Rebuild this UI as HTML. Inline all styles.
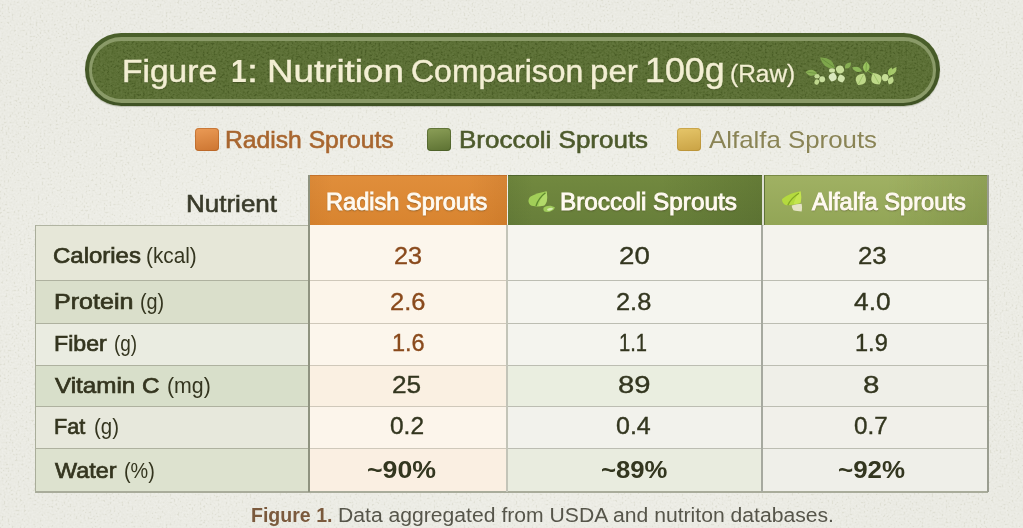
<!DOCTYPE html>
<html><head><meta charset="utf-8">
<style>
*{margin:0;padding:0;box-sizing:border-box}
html,body{width:1023px;height:528px;overflow:hidden}
body{position:relative;background:#ebebe3;font-family:"Liberation Sans",Arial,sans-serif}
.t{position:absolute;white-space:pre;line-height:1;transform-origin:0 0}
.abs{position:absolute}
#bgv{position:absolute;left:0;top:0;width:1023px;height:528px;background:radial-gradient(ellipse 60% 55% at 50% 55%, #efefe8 0%, #ebebe3 60%, #e8e8e0 100%)}
#banner{left:84.8px;top:33.2px;width:855.5px;height:72.4px;border-radius:36.2px;background:linear-gradient(180deg,#4a5f2a,#3f5224);box-shadow:0 1px 1px rgba(60,70,40,.25)}
#banner .ring{position:absolute;left:4px;top:4px;right:4px;bottom:2.8px;border-radius:32.5px;background:#8a9a68}
#banner .fill{position:absolute;left:7.6px;top:7.9px;right:7.6px;bottom:7px;border-radius:29px;background:#566a30;overflow:hidden}
.sq{position:absolute;width:24px;height:23px;border-radius:3px}
#sq1{left:195px;top:127.5px;border-radius:4px;background:linear-gradient(170deg,#eb9b56,#cc7531);box-shadow:inset 0 0 0 1px rgba(170,90,30,.5)}
#sq2{left:427px;top:127.5px;border-radius:4px;background:linear-gradient(170deg,#8c9f58,#5c7132);box-shadow:inset 0 0 0 1px rgba(60,80,30,.5)}
#sq3{left:677px;top:127.5px;border-radius:4px;background:linear-gradient(170deg,#e6c66a,#c9a244);box-shadow:inset 0 0 0 1px rgba(170,130,40,.45)}
.hd{position:absolute;top:175px;height:50.5px}
#hd1{left:309px;width:198px;background:linear-gradient(90deg,rgba(120,50,0,.06) 0%,rgba(0,0,0,0) 12%,rgba(0,0,0,0) 80%,rgba(120,50,0,.10) 100%),linear-gradient(180deg,#e08e3b,#d8842f);box-shadow:inset 0 1px 0 rgba(170,90,30,.5)}
#hd2{left:507.5px;width:254px;background:linear-gradient(90deg,rgba(30,50,10,.08) 0%,rgba(0,0,0,0) 10%,rgba(0,0,0,0) 60%,rgba(30,50,10,.16) 100%),linear-gradient(180deg,#72893f,#677e3a);box-shadow:inset 0 1px 0 rgba(50,70,30,.5)}
#hd3{left:763.6px;width:224.9px;border-left:1px solid #5e7236;background:linear-gradient(90deg,rgba(0,0,0,0) 0%,rgba(0,0,0,0) 55%,rgba(40,60,10,.14) 100%),linear-gradient(180deg,#a0b163,#92a556);box-shadow:inset 0 1px 0 rgba(80,100,40,.5)}
.c{position:absolute}
.hl{position:absolute;height:1.5px;background:#a9ab9a}
.vl{position:absolute;width:1.5px;background:#8e9282}
</style></head><body>
<div id="bgv"></div>
<svg class="abs" style="left:0;top:0;opacity:.45;mix-blend-mode:soft-light" width="1023" height="528"><filter id="nz2"><feTurbulence type="fractalNoise" baseFrequency="0.5" numOctaves="2" seed="7"/><feColorMatrix type="saturate" values="0"/><feComponentTransfer><feFuncR type="linear" slope="3" intercept="-1"/><feFuncG type="linear" slope="3" intercept="-1"/><feFuncB type="linear" slope="3" intercept="-1"/><feFuncA type="linear" slope="0" intercept="1"/></feComponentTransfer></filter><rect width="1023" height="528" filter="url(#nz2)"/></svg>
<div id="banner" class="abs"><div class="ring"></div><div class="fill"><svg width="100%" height="100%" style="position:absolute;left:0;top:0;opacity:.2;mix-blend-mode:soft-light"><filter id="nz"><feTurbulence type="fractalNoise" baseFrequency="0.45" numOctaves="2" seed="3"/><feColorMatrix type="saturate" values="0"/><feComponentTransfer><feFuncR type="linear" slope="3" intercept="-1"/><feFuncG type="linear" slope="3" intercept="-1"/><feFuncB type="linear" slope="3" intercept="-1"/><feFuncA type="linear" slope="0" intercept="1"/></feComponentTransfer></filter><rect width="100%" height="100%" filter="url(#nz)"/></svg></div></div>
<div class="sq" id="sq1"></div><div class="sq" id="sq2"></div><div class="sq" id="sq3"></div>
<div class="hd" id="hd1"></div><div class="hd" id="hd2"></div><div class="hd" id="hd3"></div>
<!-- body cells -->
<div class="c" style="left:35px;top:225px;width:274px;height:55px;background:#e6e7d8"></div>
<div class="c" style="left:309px;top:225px;width:198px;height:55px;background:#fcf6ec"></div>
<div class="c" style="left:507px;top:225px;width:255px;height:55px;background:#f6f5ef"></div>
<div class="c" style="left:762px;top:225px;width:226px;height:55px;background:#f4f3ed"></div>
<div class="c" style="left:35px;top:280px;width:274px;height:43px;background:#dadfcb"></div>
<div class="c" style="left:309px;top:280px;width:198px;height:43px;background:#fcf5ea"></div>
<div class="c" style="left:507px;top:280px;width:255px;height:43px;background:#f5f5ef"></div>
<div class="c" style="left:762px;top:280px;width:226px;height:43px;background:#f4f4ee"></div>
<div class="c" style="left:35px;top:323px;width:274px;height:42px;background:#eaece1"></div>
<div class="c" style="left:309px;top:323px;width:198px;height:42px;background:#fcf6ec"></div>
<div class="c" style="left:507px;top:323px;width:255px;height:42px;background:#f4f4ee"></div>
<div class="c" style="left:762px;top:323px;width:226px;height:42px;background:#f2f2ec"></div>
<div class="c" style="left:35px;top:365px;width:274px;height:41px;background:#d8dfca"></div>
<div class="c" style="left:309px;top:365px;width:198px;height:41px;background:#faf0e2"></div>
<div class="c" style="left:507px;top:365px;width:255px;height:41px;background:#eaeee0"></div>
<div class="c" style="left:762px;top:365px;width:226px;height:41px;background:#efefe8"></div>
<div class="c" style="left:35px;top:406px;width:274px;height:42px;background:#e7e8dc"></div>
<div class="c" style="left:309px;top:406px;width:198px;height:42px;background:#fcf5eb"></div>
<div class="c" style="left:507px;top:406px;width:255px;height:42px;background:#f2f2ec"></div>
<div class="c" style="left:762px;top:406px;width:226px;height:42px;background:#f1f0ea"></div>
<div class="c" style="left:35px;top:448px;width:274px;height:44px;background:#dde2cf"></div>
<div class="c" style="left:309px;top:448px;width:198px;height:44px;background:#faefe2"></div>
<div class="c" style="left:507px;top:448px;width:255px;height:44px;background:#e9ecdf"></div>
<div class="c" style="left:762px;top:448px;width:226px;height:44px;background:#efefe9"></div>
<!-- lines -->
<div class="hl" style="left:35px;top:224.5px;width:274px;height:1.2px;background:#b1b4a2"></div>
<div class="hl" style="left:35px;top:280px;width:274px;height:1.2px;background:#aeb19f"></div>
<div class="hl" style="left:309px;top:280px;width:198px;height:1.2px;background:#cfc8ba"></div>
<div class="hl" style="left:507px;top:280px;width:481px;height:1.2px;background:#bcbdb2"></div>
<div class="hl" style="left:35px;top:322.6px;width:274px;height:1.2px;background:#aeb19f"></div>
<div class="hl" style="left:309px;top:322.6px;width:198px;height:1.2px;background:#cfc8ba"></div>
<div class="hl" style="left:507px;top:322.6px;width:481px;height:1.2px;background:#bcbdb2"></div>
<div class="hl" style="left:35px;top:364.6px;width:274px;height:1.2px;background:#aeb19f"></div>
<div class="hl" style="left:309px;top:364.6px;width:198px;height:1.2px;background:#cfc8ba"></div>
<div class="hl" style="left:507px;top:364.6px;width:481px;height:1.2px;background:#bcbdb2"></div>
<div class="hl" style="left:35px;top:405.8px;width:274px;height:1.2px;background:#aeb19f"></div>
<div class="hl" style="left:309px;top:405.8px;width:198px;height:1.2px;background:#cfc8ba"></div>
<div class="hl" style="left:507px;top:405.8px;width:481px;height:1.2px;background:#bcbdb2"></div>
<div class="hl" style="left:35px;top:447.8px;width:274px;height:1.2px;background:#aeb19f"></div>
<div class="hl" style="left:309px;top:447.8px;width:198px;height:1.2px;background:#cfc8ba"></div>
<div class="hl" style="left:507px;top:447.8px;width:481px;height:1.2px;background:#bcbdb2"></div>
<div class="hl" style="left:35px;top:491px;width:953px;height:1.5px;background:#a9ac9b"></div>
<div class="vl" style="left:34.5px;top:224.5px;height:268px;width:1.5px;background:#a9ad9a"></div>
<div class="vl" style="left:308.4px;top:175px;height:317px;width:1.7px;background:#8f9380"></div>
<div class="vl" style="left:506.4px;top:225px;height:267px;width:1.2px;background:#c3c4b8"></div>
<div class="vl" style="left:761.5px;top:175px;height:50.5px;width:2.1px;background:#dedfd3"></div>
<div class="vl" style="left:761.2px;top:225px;height:267px;width:1.7px;background:#a6a99f"></div>
<div class="vl" style="left:987px;top:175px;height:317px;width:1.6px;background:#9a9d90"></div>
<svg class="abs" style="left:0;top:0" width="1023" height="528" viewBox="0 0 1023 528"><path d="M817.0,73.5 Q812.6,66.8 805.5,72.0 Q811.0,78.9 817.0,73.5Z" fill="#8cb257"/><path d="M815.9,73.3 L807.2,72.2" stroke="#6f9540" stroke-width="0.8" fill="none" stroke-linecap="round"/><ellipse cx="817" cy="76.2" rx="2.6" ry="2.2" fill="#c4db96" transform="rotate(0 817 76.2)"/><ellipse cx="822.2" cy="79.2" rx="2.9" ry="3.0" fill="#c9de9e" transform="rotate(0 822.2 79.2)"/><ellipse cx="816.8" cy="82" rx="2.3" ry="2.7" fill="#bfd78e" transform="rotate(20 816.8 82)"/><path d="M835.0,68.0 Q832.8,56.7 820.0,57.5 Q823.7,69.8 835.0,68.0Z" fill="#7ea64b"/><path d="M833.5,67.0 L822.2,59.1" stroke="#64893a" stroke-width="0.8" fill="none" stroke-linecap="round"/><ellipse cx="832" cy="70.4" rx="3.0" ry="2.2" fill="#cfe2a6" transform="rotate(0 832 70.4)"/><ellipse cx="840" cy="69.5" rx="4.0" ry="3.9" fill="#c7dd98" transform="rotate(-20 840 69.5)"/><path d="M831.5,81.5 Q840.5,79.6 834.0,72.5 Q824.8,75.3 831.5,81.5Z" fill="#dbe8bf"/><path d="M842.5,82.5 Q848.3,76.7 840.0,74.5 Q834.5,81.1 842.5,82.5Z" fill="#d2e3ad"/><path d="M845.0,68.5 Q851.2,69.3 851.0,62.5 Q844.2,62.3 845.0,68.5Z" fill="#86ad52"/><path d="M862.0,71.0 Q859.1,64.8 852.0,67.5 Q855.9,74.1 862.0,71.0Z" fill="#8cb758"/><path d="M866.0,72.5 Q873.1,67.9 866.5,61.5 Q859.4,67.2 866.0,72.5Z" fill="#99c25f"/><path d="M866.0,71.4 L866.4,63.1" stroke="#75a040" stroke-width="0.8" fill="none" stroke-linecap="round"/><path d="M868,71 Q871,73.5 874,74" stroke="#7aa646" stroke-width="1" fill="none"/><path d="M858.0,85.0 Q870.0,84.7 864.0,73.5 Q851.4,75.0 858.0,85.0Z" fill="#bfd989"/><path d="M858.6,83.8 L863.1,75.2" stroke="#96bb5f" stroke-width="0.8" fill="none" stroke-linecap="round"/><path d="M879.5,84.5 Q885.7,74.2 873.0,73.0 Q867.5,84.5 879.5,84.5Z" fill="#bfd989"/><path d="M878.9,83.3 L874.0,74.7" stroke="#96bb5f" stroke-width="0.8" fill="none" stroke-linecap="round"/><ellipse cx="885.2" cy="77.6" rx="3.3" ry="3.7" fill="#c6dd96" transform="rotate(0 885.2 77.6)"/><path d="M889.5,76.0 Q895.6,73.4 891.5,67.5 Q885.2,71.0 889.5,76.0Z" fill="#a2c766"/><path d="M891.0,75.0 Q897.1,73.9 896.5,67.0 Q889.9,68.9 891.0,75.0Z" fill="#a7ca6c"/><path d="M889.0,84.5 Q895.8,83.2 892.5,76.5 Q885.4,78.6 889.0,84.5Z" fill="#bed88c"/><path d="M546.4,191.3 C541,192.5 535,194 531,196.2 C528,198 527.6,202.5 530.3,205 C533.5,207 540,206.8 544.6,205.2 C547.6,201.8 547.6,196.2 546.4,191.3 Z" fill="#a2cf58"/>
<path d="M546.4,191.3 C543.5,194 540.5,198.5 538.5,206 C541,206.3 543,205.8 544.6,205.2 C547.6,201.8 547.6,196.2 546.4,191.3 Z" fill="#b2da6a"/>
<path d="M536,206 Q538.5,198 545.5,192.8" stroke="#5f8a30" stroke-width="1.4" fill="none"/>
<path d="M543.6,207.8 C546,205.3 551,204.8 555,207.4 C553.5,211 548.5,212.8 544.5,211.6 C543.3,210.6 543.2,209 543.6,207.8 Z" fill="#9fcb5a"/>
<ellipse cx="550" cy="209.2" rx="3" ry="1.3" fill="#d6ecb0" transform="rotate(-12 550 209.2)"/>
<path d="M800.4,191.3 C796,192.3 792,193.2 788.5,195 C785.5,196.5 783.2,197.8 782,199.3 C781.8,202.3 783.6,204.6 786.4,205.3 C791,205.4 796,204.4 800.4,203.1 C801.6,199.5 801.4,195 800.4,191.3 Z" fill="#b4da3e"/>
<path d="M800.4,191.3 C797.5,194.5 795,198.5 793.5,204.6 C796,204.3 798.3,203.7 800.4,203.1 C801.6,199.5 801.4,195 800.4,191.3 Z" fill="#c4e54e"/>
<path d="M787.8,205.2 Q791,198 799,193.2" stroke="#84a826" stroke-width="1.3" fill="none"/>
<path d="M791.8,205.5 C795,204.6 798.5,204 801.6,203.8 C802.2,206.5 802.2,209 801.6,211.4 C798.5,211.2 796,210.8 793.4,210.2 C792.4,208.8 791.8,207.2 791.8,205.5Z" fill="#e5e3c6"/></svg>
<span class="t" id="t1" style="left:122.24px;top:56px;font-size:31px;font-weight:400;color:#f3efd3;transform:scaleX(1.0824);text-shadow:0 1px 1px rgba(40,50,20,.45);-webkit-text-stroke:0.45px currentColor;">Figure</span>
<span class="t" id="t2a" style="left:231.09px;top:56px;font-size:31px;font-weight:700;color:#f3efd3;transform:scaleX(0.9062);text-shadow:0 1px 1px rgba(40,50,20,.45);">1</span>
<span class="t" id="t2b" style="left:247.45px;top:56px;font-size:31px;font-weight:400;color:#f3efd3;transform:scaleX(1.2750);text-shadow:0 1px 1px rgba(40,50,20,.45);-webkit-text-stroke:0.45px currentColor;">:</span>
<span class="t" id="t3" style="left:266.63px;top:56px;font-size:31px;font-weight:400;color:#f3efd3;transform:scaleX(1.1855);text-shadow:0 1px 1px rgba(40,50,20,.45);-webkit-text-stroke:0.45px currentColor;">Nutrition</span>
<span class="t" id="t4" style="left:410.67px;top:56px;font-size:31px;font-weight:400;color:#f3efd3;transform:scaleX(1.0316);text-shadow:0 1px 1px rgba(40,50,20,.45);-webkit-text-stroke:0.45px currentColor;">Comparison</span>
<span class="t" id="t5" style="left:590.17px;top:56px;font-size:31px;font-weight:400;color:#f3efd3;transform:scaleX(1.0663);text-shadow:0 1px 1px rgba(40,50,20,.45);-webkit-text-stroke:0.45px currentColor;">per</span>
<span class="t" id="t6" style="left:645.43px;top:53px;font-size:34.5px;font-weight:400;color:#f3efd3;transform:scaleX(1.0364);text-shadow:0 1px 1px rgba(40,50,20,.45);-webkit-text-stroke:0.45px currentColor;">100g</span>
<span class="t" id="t7" style="left:729.94px;top:63px;font-size:23px;font-weight:400;color:#f3efd3;transform:scaleX(1.0625);text-shadow:0 1px 1px rgba(40,50,20,.45);-webkit-text-stroke:0.3px currentColor;">(Raw)</span>
<span class="t" id="l1" style="left:225.37px;top:128px;font-size:24px;font-weight:400;color:#a8662f;transform:scaleX(1.0277);-webkit-text-stroke:0.6px currentColor;">Radish Sprouts</span>
<span class="t" id="l2" style="left:458.92px;top:128px;font-size:24px;font-weight:400;color:#4d5a2c;transform:scaleX(1.0821);-webkit-text-stroke:0.6px currentColor;">Broccoli Sprouts</span>
<span class="t" id="l3" style="left:709.00px;top:128px;font-size:24px;font-weight:400;color:#8a8455;transform:scaleX(1.0764);">Alfalfa Sprouts</span>
<span class="t" id="h0" style="left:185.58px;top:192px;font-size:24.5px;font-weight:400;color:#3a3b2b;transform:scaleX(1.0610);-webkit-text-stroke:0.6px currentColor;">Nutrient</span>
<span class="t" id="h1" style="left:325.97px;top:191px;font-size:23px;font-weight:400;color:#fffaf0;transform:scaleX(1.0254);text-shadow:0 1px 1.5px rgba(40,30,10,.55);-webkit-text-stroke:0.9px currentColor;">Radish Sprouts</span>
<span class="t" id="h2" style="left:560.44px;top:191px;font-size:23px;font-weight:400;color:#fffaf0;transform:scaleX(1.0557);text-shadow:0 1px 1.5px rgba(40,30,10,.55);-webkit-text-stroke:0.9px currentColor;">Broccoli Sprouts</span>
<span class="t" id="h3" style="left:811.90px;top:191px;font-size:23px;font-weight:400;color:#fffaf0;transform:scaleX(1.0283);text-shadow:0 1px 1.5px rgba(40,30,10,.55);-webkit-text-stroke:0.9px currentColor;">Alfalfa Sprouts</span>
<span class="t" id="rn0" style="left:53.03px;top:245px;font-size:22.5px;font-weight:400;color:#34351f;transform:scaleX(1.0655);-webkit-text-stroke:0.7px currentColor;">Calories</span>
<span class="t" id="ru0" style="left:146.18px;top:245px;font-size:22.5px;font-weight:400;color:#34351f;transform:scaleX(0.9214);">(kcal)</span>
<span class="t" id="rn1" style="left:54.09px;top:291px;font-size:22.5px;font-weight:400;color:#34351f;transform:scaleX(1.1135);-webkit-text-stroke:0.7px currentColor;">Protein</span>
<span class="t" id="ru1" style="left:139.82px;top:291px;font-size:22.5px;font-weight:400;color:#34351f;transform:scaleX(0.8806);">(g)</span>
<span class="t" id="rn2" style="left:54.17px;top:333px;font-size:22.5px;font-weight:400;color:#34351f;transform:scaleX(1.0282);-webkit-text-stroke:0.7px currentColor;">Fiber</span>
<span class="t" id="ru2" style="left:114.46px;top:333px;font-size:22.5px;font-weight:400;color:#34351f;transform:scaleX(0.8421);">(g)</span>
<span class="t" id="rn3" style="left:55.30px;top:375px;font-size:22.5px;font-weight:400;color:#34351f;transform:scaleX(1.0757);-webkit-text-stroke:0.7px currentColor;">Vitamin C</span>
<span class="t" id="ru3" style="left:166.65px;top:375px;font-size:22.5px;font-weight:400;color:#34351f;transform:scaleX(0.9475);">(mg)</span>
<span class="t" id="rn4" style="left:54.34px;top:416px;font-size:22.5px;font-weight:400;color:#34351f;transform:scaleX(0.9610);-webkit-text-stroke:0.7px currentColor;">Fat</span>
<span class="t" id="ru4" style="left:93.79px;top:416px;font-size:22.5px;font-weight:400;color:#34351f;transform:scaleX(0.9075);">(g)</span>
<span class="t" id="rn5" style="left:54.80px;top:460px;font-size:22.5px;font-weight:400;color:#34351f;transform:scaleX(1.0389);-webkit-text-stroke:0.7px currentColor;">Water</span>
<span class="t" id="ru5" style="left:124.12px;top:460px;font-size:22.5px;font-weight:400;color:#34351f;transform:scaleX(0.8806);">(%)</span>
<span class="t" id="v00" style="left:394.30px;top:245px;font-size:23px;font-weight:400;color:#8a4a1c;transform:scaleX(1.0970);-webkit-text-stroke:0.35px currentColor;">23</span>
<span class="t" id="v01" style="left:619.40px;top:245px;font-size:23px;font-weight:400;color:#33361f;transform:scaleX(1.2021);-webkit-text-stroke:0.35px currentColor;">20</span>
<span class="t" id="v02" style="left:857.98px;top:245px;font-size:23px;font-weight:400;color:#33361f;transform:scaleX(1.1180);-webkit-text-stroke:0.35px currentColor;">23</span>
<span class="t" id="v10" style="left:389.89px;top:291px;font-size:23px;font-weight:400;color:#8a4a1c;transform:scaleX(1.1066);-webkit-text-stroke:0.35px currentColor;">2.6</span>
<span class="t" id="v11" style="left:615.60px;top:291px;font-size:23px;font-weight:400;color:#33361f;transform:scaleX(1.1033);-webkit-text-stroke:0.35px currentColor;">2.8</span>
<span class="t" id="v12" style="left:853.50px;top:291px;font-size:23px;font-weight:400;color:#33361f;transform:scaleX(1.1449);-webkit-text-stroke:0.35px currentColor;">4.0</span>
<span class="t" id="v20" style="left:391.88px;top:332px;font-size:23px;font-weight:400;color:#8a4a1c;transform:scaleX(1.0221);-webkit-text-stroke:0.35px currentColor;">1.6</span>
<span class="t" id="v21" style="left:618.73px;top:332px;font-size:23px;font-weight:400;color:#33361f;transform:scaleX(0.8747);-webkit-text-stroke:0.35px currentColor;">1.1</span>
<span class="t" id="v22" style="left:854.78px;top:332px;font-size:23px;font-weight:400;color:#33361f;transform:scaleX(1.0238);-webkit-text-stroke:0.35px currentColor;">1.9</span>
<span class="t" id="v30" style="left:391.76px;top:374px;font-size:23px;font-weight:400;color:#33361f;transform:scaleX(1.1391);-webkit-text-stroke:0.35px currentColor;">25</span>
<span class="t" id="v31" style="left:617.73px;top:374px;font-size:23px;font-weight:400;color:#33361f;transform:scaleX(1.2694);-webkit-text-stroke:0.35px currentColor;">89</span>
<span class="t" id="v32" style="left:862.92px;top:374px;font-size:23px;font-weight:400;color:#33361f;transform:scaleX(1.2818);-webkit-text-stroke:0.35px currentColor;">8</span>
<span class="t" id="v40" style="left:389.80px;top:415px;font-size:23px;font-weight:400;color:#33361f;transform:scaleX(1.0647);-webkit-text-stroke:0.35px currentColor;">0.2</span>
<span class="t" id="v41" style="left:615.80px;top:415px;font-size:23px;font-weight:400;color:#33361f;transform:scaleX(1.0876);-webkit-text-stroke:0.35px currentColor;">0.4</span>
<span class="t" id="v42" style="left:854.20px;top:415px;font-size:23px;font-weight:400;color:#33361f;transform:scaleX(1.0551);-webkit-text-stroke:0.35px currentColor;">0.7</span>
<span class="t" id="v50" style="left:366.60px;top:459px;font-size:23px;font-weight:700;color:#33361f;transform:scaleX(1.1607);">~90%</span>
<span class="t" id="v51" style="left:600.80px;top:459px;font-size:23px;font-weight:700;color:#33361f;transform:scaleX(1.1167);">~89%</span>
<span class="t" id="v52" style="left:838.30px;top:459px;font-size:23px;font-weight:700;color:#33361f;transform:scaleX(1.1268);">~92%</span>
<span class="t" id="f1" style="left:251.00px;top:506px;font-size:19.5px;font-weight:700;color:#7b5a3d;transform:scaleX(1.0019);">Figure 1.</span>
<span class="t" id="f2" style="left:338.42px;top:506px;font-size:19.5px;font-weight:400;color:#56554a;transform:scaleX(1.0842);">Data aggregated from USDA and nutriton databases.</span>
</body></html>
